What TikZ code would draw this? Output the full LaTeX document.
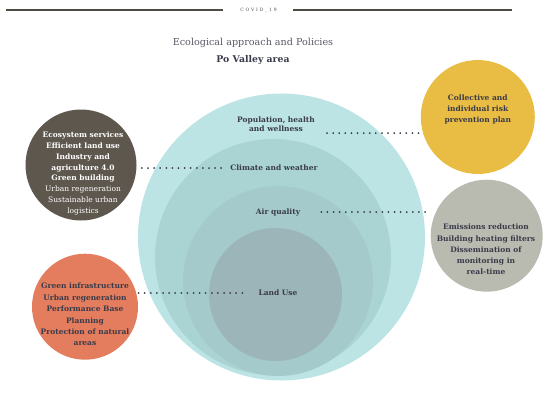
\documentclass[tikz,border=0pt]{standalone}
\usepackage{fontspec}
\setmainfont{DejaVu Serif}
\usetikzlibrary{positioning, calc}
\definecolor{ringA}{HTML}{BCE4E4}
\definecolor{ringB}{HTML}{AAD4D4}
\definecolor{ringC}{HTML}{A4CACB}
\definecolor{ringD}{HTML}{9CB5B8}
\definecolor{ecobrown}{HTML}{5E574E}
\definecolor{greenorange}{HTML}{E47D5E}
\definecolor{riskyellow}{HTML}{E9BD44}
\definecolor{airgray}{HTML}{B9BBB0}
\definecolor{ink}{HTML}{3A3B4A}
\definecolor{rulegray}{HTML}{4F4B45}

\begin{document}
\begin{tikzpicture}[x=1pt, y=-1pt,
    ring/.style={circle, inner sep=0pt, draw=none},
    bubble/.style={circle, inner sep=0pt, draw=none},
    bubbletext/.style={align=center, inner sep=0pt, text=ink, font=\fontsize{7.5}{11.2}\selectfont\bfseries},
    label/.style={align=center, inner sep=1pt, text=ink, font=\fontsize{7.5}{9}\selectfont\bfseries},
    link/.style={draw=ink, line width=2pt, line cap=round, dash pattern=on 0pt off 6.1pt}
]
\useasboundingbox (0,0) rectangle (550,392);

% Header
\node[text=rulegray, font=\fontsize{4.5}{5}\selectfont\addfontfeature{LetterSpace=40}] (covid) at (258.5,10) {COVID\_19};
\draw[rulegray, line width=1.1pt] (6,10) -- (223,10);
\draw[rulegray, line width=1.1pt] (293,10) -- (512,10);
\node[text=ink!85, font=\fontsize{9.6}{11}\selectfont] (title) at (253,43) {Ecological approach and Policies};
\node[text=ink, font=\fontsize{9.3}{11}\selectfont\bfseries] (area) at (253,60) {Po Valley area};

% Nested rings
\node[ring, fill=ringA, minimum size=287pt] (pop ring) at (281.5,237) {};
\node[ring, fill=ringB, minimum size=236pt] (clim ring) at (273,257) {};
\node[ring, fill=ringC, minimum size=190pt] (air ring) at (278,281) {};
\node[ring, fill=ringD, minimum size=133pt] (land ring) at (275.5,294.5) {};

\node[label] (pop) at (276,124.5) {Population, health\\and wellness};
\node[label] (clim) at (274,168) {Climate and weather};
\node[label] (air) at (278,212) {Air quality};
\node[label] (land) at (278,293) {Land Use};

% Policy bubbles
\node[bubble, fill=ecobrown, minimum size=111pt] (eco) at (81,165) {};
\node[bubbletext, text=white, font=\fontsize{7.5}{10.9}\selectfont] (eco text) at (83,173.5)
    {\bfseries Ecosystem services\\\bfseries Efficient land use\\\bfseries Industry and\\\bfseries agriculture 4.0\\\bfseries Green building\\Urban regeneration\\Sustainable urban\\logistics};

\node[bubble, fill=greenorange, minimum size=106pt] (green) at (85,306.7) {};
\node[bubbletext, font=\fontsize{7.5}{11.4}\selectfont\bfseries] (green text) at (85,314.5)
    {Green infrastructure\\Urban regeneration\\Performance Base\\Planning\\Protection of natural\\areas};

\node[bubble, fill=riskyellow, minimum size=114pt] (risk) at (477.8,117) {};
\node[bubbletext] (risk text) at (477.8,109.5) {Collective and\\individual risk\\prevention plan};

\node[bubble, fill=airgray, minimum size=112pt] (emis) at (486.7,235.7) {};
\node[bubbletext] (emis text) at (486,249.5)
    {Emissions reduction\\Building heating filters\\Dissemination of\\monitoring in\\real-time};

% Links
\draw[link] ([xshift=11pt]pop.south east) -- (pop.south east -| risk.west);
\draw[link] ([xshift=-8pt]clim.west) -- (eco.east |- clim.west);
\draw[link] ([xshift=20pt]air.east) -- (air.east -| emis.west);
\draw[link] ([xshift=-15pt]land.west) -- (green.east |- land.west);

\end{tikzpicture}
\end{document}
